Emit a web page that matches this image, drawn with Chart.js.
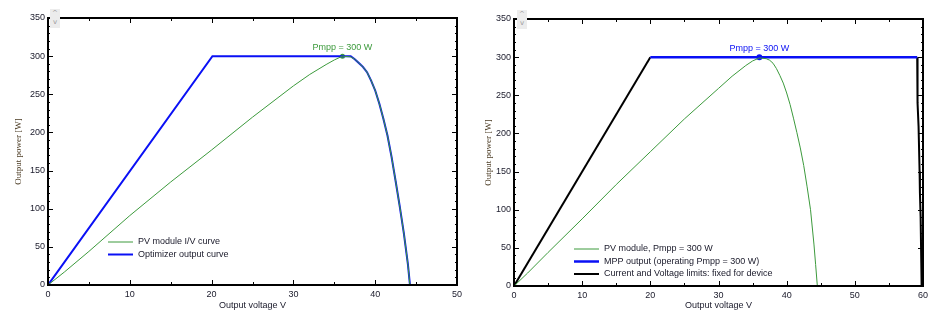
<!DOCTYPE html>
<html>
<head>
<meta charset="utf-8">
<script src="https://cdn.jsdelivr.net/npm/chart.js@4.4.1/dist/chart.umd.min.js"></script>
<style>
  body { margin: 0; background: #fff; }
  .wrap { position: absolute; top: 0; height: 322px; }
  .spin { position: absolute; width: 10px; height: 19px; background: #ececec; color: #9a9a9a;
          font: 7px "DejaVu Sans", sans-serif; text-align: center; line-height: 9px; }
</style>
</head>
<body>
<div class="wrap" style="left:0;width:470px"><canvas id="left"></canvas></div>
<div class="wrap" style="left:470px;width:472px"><canvas id="right"></canvas></div>
<div class="spin" style="left:50px;top:9px">^<br>v</div>
<div class="spin" style="left:517px;top:10px">^<br>v</div>
<script>
// left chart: PV module I/V curve and optimizer output
const pvLeftV = [0, 2, 5, 10, 15, 20, 25, 30, 32, 34, 35, 36, 37, 37.5, 38, 38.5, 39, 39.5, 40, 40.5, 41, 41.5, 42, 42.5, 43, 43.5, 44, 44.25];
const pvLeftP = [0, 17, 44, 91, 135, 177, 220, 261, 276, 289, 295, 300, 299, 296, 291, 286, 279, 268, 255, 238, 218, 196, 168, 136, 103, 68, 27, 0];
const optV = [0, 20.1, 37, 37.5, 38, 38.5, 39, 39.5, 40, 40.5, 41, 41.5, 42, 42.5, 43, 43.5, 44, 44.25];
const optP = [0, 300, 300, 296, 291, 286, 279, 268, 255, 238, 218, 196, 168, 136, 103, 68, 27, 0];

// right chart: PV module, MPP output, device limits
const pvRightV = [0, 2, 5, 10, 15, 20, 25, 30, 32, 34, 35, 36, 37, 37.5, 38, 38.5, 39, 39.5, 40, 40.5, 41, 41.5, 42, 42.5, 43, 43.5, 44, 44.25, 44.5];
const pvRightP = [0, 17, 44, 88, 133, 176, 219, 259, 275, 289, 295, 299, 298, 296, 292, 285, 276, 266, 253, 238, 220, 201, 181, 158, 130, 100, 55, 28, 0];
const mppV = [20, 59.15];
const mppP = [300, 300];
const rampV = [0, 20];
const rampP = [0, 300];
const limitV = [59.15, 59.2, 59.35, 59.5, 59.55, 59.65, 59.75, 59.8];
const limitP = [300, 240, 209, 150, 122, 91, 30, 0];

const peakV = [36];
const peakP = [300];
const peakText = 'Pmpp = 300 W';

const yTicks = [0, 50, 100, 150, 200, 250, 300, 350];

const GREEN = '#3c9a3c';
const BLUE = '#0a10f5';
const TEXT = '#202030';
const FONT = '"Liberation Sans", Arial, sans-serif';

const pts = (xs, ys) => xs.map((x, i) => ({ x: x, y: ys[i] }));

// frame, inward ticks, peak label and legend inside the plot
const decor = {
    id: 'decor',
    afterDatasetsDraw(chart, args, opts) {
        const { ctx, chartArea: a, scales: { x, y } } = chart;
        ctx.save();
        ctx.strokeStyle = '#000';
        ctx.lineWidth = 1;
        ctx.beginPath();
        for (let v = 0; v <= x.max; v += 5) {
            const px = Math.round(x.getPixelForValue(v)) + 0.5;
            const len = v % 10 === 0 ? 5 : 3;
            ctx.moveTo(px, a.bottom); ctx.lineTo(px, a.bottom - len);
            ctx.moveTo(px, a.top); ctx.lineTo(px, a.top + len);
        }
        for (let v = 0; v <= y.max; v += 10) {
            const py = Math.round(y.getPixelForValue(v)) + 0.5;
            const len = v % 50 === 0 ? 5 : 2;
            ctx.moveTo(a.left, py); ctx.lineTo(a.left + len, py);
            ctx.moveTo(a.right, py); ctx.lineTo(a.right - len, py);
        }
        ctx.stroke();
        ctx.lineWidth = 2;
        ctx.strokeRect(a.left, a.top, a.right - a.left, a.bottom - a.top);

        // peak label
        const px = x.getPixelForValue(peakV[0]);
        const py = y.getPixelForValue(peakP[0]);
        ctx.font = '9px ' + FONT;
        ctx.fillStyle = opts.peakColor;
        ctx.textAlign = 'center';
        ctx.textBaseline = 'middle';
        ctx.fillText(peakText, px, py - 9);

        // legend
        ctx.textAlign = 'left';
        ctx.fillStyle = TEXT;
        let ly = opts.legendY;
        chart.data.datasets.forEach(ds => {
            if (!ds.label) return;
            ctx.strokeStyle = ds.borderColor;
            ctx.lineWidth = ds.borderWidth;
            ctx.beginPath();
            ctx.moveTo(opts.legendX, ly); ctx.lineTo(opts.legendX + 25, ly);
            ctx.stroke();
            ctx.fillText(ds.label, opts.legendX + 30, ly);
            ly += opts.legendStep;
        });
        ctx.restore();
    }
};

function makeChart(id, datasets, xMax, pad, xHeight, yWidth, decorOpts) {
    return new Chart(document.getElementById(id), {
        type: 'scatter',
        data: { datasets: datasets },
        options: {
            responsive: true,
            maintainAspectRatio: false,
            animation: false,
            layout: { padding: pad },
            plugins: { legend: { display: false }, tooltip: { enabled: false }, decor: decorOpts },
            scales: {
                x: {
                    min: 0, max: xMax,
                    grid: { display: false, drawTicks: false },
                    border: { display: false },
                    ticks: { stepSize: 10, padding: 4, color: TEXT, font: { family: FONT, size: 9 } },
                    title: { display: true, text: 'Output voltage V', color: TEXT,
                             font: { family: FONT, size: 9 }, padding: { top: 0, bottom: 11 } },
                    afterFit: s => { s.height = xHeight; }
                },
                y: {
                    min: 0, max: 350,
                    grid: { display: false, drawTicks: false },
                    border: { display: false },
                    afterBuildTicks: s => { s.ticks = yTicks.map(v => ({ value: v })); },
                    ticks: { padding: 3, color: TEXT, font: { family: FONT, size: 9 } },
                    title: { display: true, text: 'Output power [W]', color: '#4a3a22',
                             font: { family: '"Liberation Serif", "Times New Roman", serif', size: 9 },
                             padding: { top: 13, bottom: 0 } },
                    afterFit: s => { s.width = yWidth; }
                }
            }
        },
        plugins: [decor]
    });
}

const line = (label, xs, ys, color, width) => ({
    label: label, data: pts(xs, ys), showLine: true, borderColor: color,
    borderWidth: width, pointRadius: 0, tension: 0
});

makeChart('left', [
    line('PV module I/V curve', pvLeftV, pvLeftP, GREEN, 1),
    line('Optimizer output curve', optV, optP, BLUE, 2),
    { data: pts(peakV, peakP), pointRadius: 2.5, backgroundColor: GREEN, borderColor: GREEN, borderWidth: 0 }
], 50, { top: 18, right: 13, left: 0, bottom: 0 }, 37, 48,
   { peakColor: GREEN, legendX: 108, legendY: 242, legendStep: 12.5 });

makeChart('right', [
    line('PV module, Pmpp = 300 W', pvRightV, pvRightP, GREEN, 1),
    line('MPP output (operating Pmpp = 300 W)', mppV, mppP, BLUE, 2.5),
    line('Current and Voltage limits: fixed for device', rampV, rampP, '#000', 2),
    line('', limitV, limitP, '#000', 2),
    { data: pts(peakV, peakP), pointRadius: 3, backgroundColor: BLUE, borderColor: BLUE, borderWidth: 0 }
], 60, { top: 19, right: 19, left: 0, bottom: 0 }, 36, 44,
   { peakColor: BLUE, legendX: 104, legendY: 249, legendStep: 12.5 });
</script>
</body>
</html>
